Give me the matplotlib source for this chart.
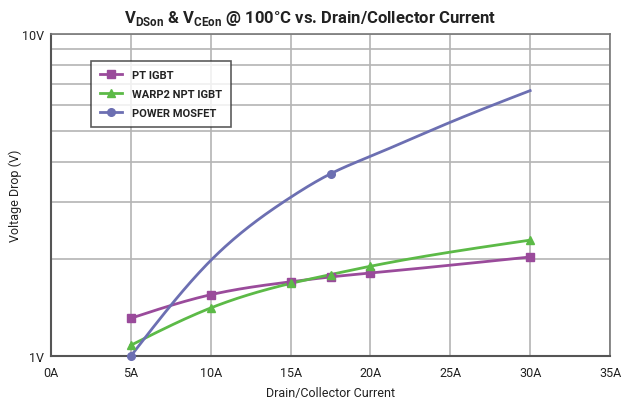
import numpy as np
import matplotlib
matplotlib.use("Agg")
import matplotlib.pyplot as plt
from matplotlib.ticker import FixedLocator, NullFormatter, FuncFormatter

plt.rcParams['font.family'] = ['Roboto', 'DejaVu Sans']
plt.rcParams['mathtext.fontset'] = 'custom'
plt.rcParams['mathtext.bf'] = 'Roboto:bold'
plt.rcParams['mathtext.rm'] = 'Roboto'

# Drain/collector current (A) and on-state voltage drop (V) at 100 C
pt_current = [5, 10, 15, 17.5, 20, 30]
pt_vce = [1.31, 1.55, 1.70, 1.76, 1.81, 2.03]

npt_current = [5, 10, 15, 17.5, 20, 30]
npt_vce = [1.08, 1.41, 1.68, 1.79, 1.90, 2.29]

mos_current = [5, 10, 15, 17.5, 20, 25, 30]
mos_vds = [1.00, 1.98, 3.11, 3.68, 4.17, 5.32, 6.67]
mos_marked = [0, 3]

x_ticks = [0, 5, 10, 15, 20, 25, 30, 35]
y_minor = [2, 3, 4, 5, 6, 7, 8, 9]

PURPLE = '#9a4b9b'
GREEN = '#5cba47'
BLUE = '#6c6fb2'


def smooth(x, y, n=200):
    """Natural cubic spline through the points, in (x, log y) space."""
    x = np.asarray(x, float)
    ly = np.log10(np.asarray(y, float))
    k = len(x)
    h = np.diff(x)
    A = np.zeros((k, k))
    b = np.zeros(k)
    A[0, 0] = A[-1, -1] = 1
    for i in range(1, k - 1):
        A[i, i - 1] = h[i - 1]
        A[i, i] = 2 * (h[i - 1] + h[i])
        A[i, i + 1] = h[i]
        b[i] = 3 * ((ly[i + 1] - ly[i]) / h[i] - (ly[i] - ly[i - 1]) / h[i - 1])
    c = np.linalg.solve(A, b)
    xs = np.linspace(x[0], x[-1], n)
    seg = np.clip(np.searchsorted(x, xs) - 1, 0, k - 2)
    d = xs - x[seg]
    hi = h[seg]
    bb = (ly[seg + 1] - ly[seg]) / hi - hi * (2 * c[seg] + c[seg + 1]) / 3
    dd = (c[seg + 1] - c[seg]) / (3 * hi)
    ys = ly[seg] + bb * d + c[seg] * d ** 2 + dd * d ** 3
    return xs, 10 ** ys


fig = plt.figure(figsize=(6.36, 4.06), dpi=100)
ax = fig.add_axes([51 / 636, 49 / 406, 559 / 636, 322 / 406])

series = [
    (pt_current, pt_vce, PURPLE, 's', 6, None, 'PT IGBT'),
    (npt_current, npt_vce, GREEN, '^', 6, None, 'WARP2 NPT IGBT'),
    (mos_current, mos_vds, BLUE, 'o', 5.5, mos_marked, 'POWER MOSFET'),
]
for xs, ys, color, marker, ms, every, label in series:
    sx, sy = smooth(xs, ys)
    ax.plot(sx, sy, color=color, lw=2, zorder=3)
    idx = range(len(xs)) if every is None else every
    ax.plot([xs[i] for i in idx], [ys[i] for i in idx], ls='none',
            marker=marker, ms=ms, color=color, zorder=4, clip_on=False)
    ax.plot([], [], color=color, lw=2, marker=marker, ms=ms, label=label)

ax.set_yscale('log')
ax.set_xlim(0, 35)
ax.set_ylim(1, 10)
ax.xaxis.set_major_locator(FixedLocator(x_ticks))
ax.xaxis.set_major_formatter(FuncFormatter(lambda v, p: f'{v:.0f}A'))
ax.yaxis.set_major_locator(FixedLocator([1, 10]))
ax.yaxis.set_major_formatter(FuncFormatter(lambda v, p: f'{v:.0f}V'))
ax.yaxis.set_minor_locator(FixedLocator(y_minor))
ax.yaxis.set_minor_formatter(NullFormatter())
ax.tick_params(which='both', length=0, labelsize=9, colors='#222222', pad=7)
ax.tick_params(axis='y', pad=5)
ax.grid(True, which='both', color='#b4b4b4', lw=1.2)
ax.set_axisbelow(True)
for side in ('left', 'bottom'):
    ax.spines[side].set_color('#555555')
    ax.spines[side].set_linewidth(1.5)
for side in ('top', 'right'):
    ax.spines[side].set_color('#777777')
    ax.spines[side].set_linewidth(1.2)

ax.set_xlabel('Drain/Collector Current', fontsize=9, color='#222222', labelpad=5)
ax.set_ylabel('Voltage Drop (V)', fontsize=9, color='#222222')
ax.yaxis.set_label_coords(-0.052, 0.5)

fig.text(0.487, 1 - 18 / 406,
         r'V$_{\mathbf{DSon}}$ & V$_{\mathbf{CEon}}$ @ 100°C vs. Drain/Collector Current',
         ha='center', va='center', fontsize=12, fontweight='bold', color='#222222')

leg = ax.legend(loc='upper left', bbox_to_anchor=(0.071, 0.915), frameon=True,
                fancybox=False, shadow=False, borderpad=0.8, labelspacing=0.8,
                handlelength=2.0, handletextpad=0.9, borderaxespad=0,
                prop={'weight': 'bold', 'size': 8})
leg.get_frame().set_edgecolor('#333333')
leg.get_frame().set_linewidth(1.2)
for t in leg.get_texts():
    t.set_color('#222222')

fig.savefig('out.png', dpi=100)
